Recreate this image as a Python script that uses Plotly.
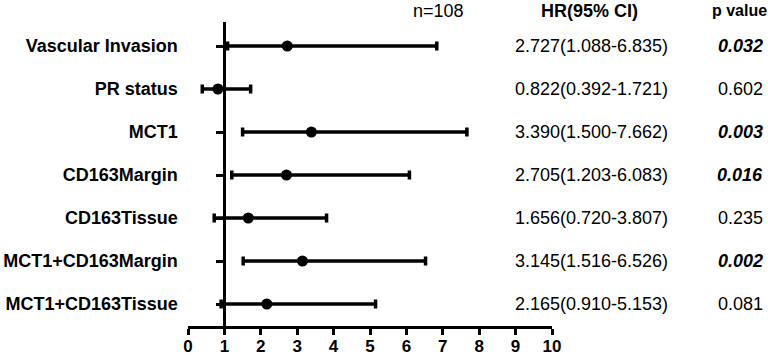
import plotly.graph_objects as go

labels = ["Vascular Invasion", "PR status", "MCT1", "CD163Margin", "CD163Tissue",
          "MCT1+CD163Margin", "MCT1+CD163Tissue"]
hr = [2.727, 0.822, 3.390, 2.705, 1.656, 3.145, 2.165]
ci_low = [1.088, 0.392, 1.500, 1.203, 0.720, 1.516, 0.910]
ci_high = [6.835, 1.721, 7.662, 6.083, 3.807, 6.526, 5.153]
p_values = [0.032, 0.602, 0.003, 0.016, 0.235, 0.002, 0.081]
x_ticks = [0, 1, 2, 3, 4, 5, 6, 7, 8, 9, 10]
n_label = "n=108"

W, H = 768, 355
FONT = "Liberation Sans, Arial, sans-serif"

err_plus = [h - v for h, v in zip(ci_high, hr)]
err_minus = [v - l for v, l in zip(hr, ci_low)]

fig = go.Figure()
fig.add_trace(go.Scatter(
    x=hr, y=labels, mode="markers",
    marker=dict(symbol="circle", size=11, color="black"),
    error_x=dict(type="data", symmetric=False, array=err_plus, arrayminus=err_minus,
                 color="black", thickness=3.5, width=4.5),
    showlegend=False, cliponaxis=False,
))

annotations = []
for lab, h, lo, hi, p in zip(labels, hr, ci_low, ci_high, p_values):
    annotations.append(dict(
        x=591 / W, xref="paper", y=lab, yref="y", xanchor="center", yanchor="middle",
        text=f"{h:.3f}({lo:.3f}-{hi:.3f})", showarrow=False,
        font=dict(family=FONT, size=18, color="black")))
    ptxt = f"{p:.3f}"
    if p < 0.05:
        ptxt = f"<b><i>{ptxt}</i></b>"
    annotations.append(dict(
        x=740 / W, xref="paper", y=lab, yref="y", xanchor="center", yanchor="middle",
        text=ptxt, showarrow=False,
        font=dict(family=FONT, size=18, color="black")))

hdr_y = 1 - 11 / H
annotations += [
    dict(x=438 / W, xref="paper", y=hdr_y, yref="paper", text=n_label, showarrow=False,
         xanchor="center", yanchor="middle", font=dict(family=FONT, size=18, color="black")),
    dict(x=589 / W, xref="paper", y=hdr_y, yref="paper", text="<b>HR(95% CI)</b>", showarrow=False,
         xanchor="center", yanchor="middle", font=dict(family=FONT, size=18, color="black")),
    dict(x=739 / W, xref="paper", y=hdr_y, yref="paper", text="<b>p value</b>", showarrow=False,
         xanchor="center", yanchor="middle", font=dict(family=FONT, size=16, color="black")),
]

x0_px, x10_px = 188, 552
axis_y_px, top_px = 327, 22
row_sp = 43.0
ylo = -(axis_y_px - 304) / row_sp
yhi = 6 + (46 - top_px) / row_sp

fig.update_layout(
    width=W, height=H,
    margin=dict(l=0, r=0, t=0, b=0, autoexpand=False),
    paper_bgcolor="white", plot_bgcolor="white",
    font=dict(family=FONT, size=18, color="black"),
    xaxis=dict(
        domain=[x0_px / W, x10_px / W], range=[0, 10],
        tickvals=x_ticks, ticktext=[f"<b>{t}</b>" for t in x_ticks],
        showgrid=False, zeroline=False, automargin=False,
        showline=True, linecolor="black", linewidth=3,
        ticks="outside", ticklen=6, tickwidth=2.5, tickcolor="black",
        anchor="free", position=(H - axis_y_px) / H,
        ticklabelstandoff=-3,
        tickfont=dict(family=FONT, size=17, color="black"),
    ),
    yaxis=dict(
        domain=[(H - axis_y_px) / H, (H - top_px) / H],
        type="category", categoryorder="array", categoryarray=labels[::-1],
        range=[ylo, yhi], automargin=False,
        ticktext=[f"<b>{l}</b>" for l in labels], tickvals=labels,
        showgrid=False, zeroline=False,
        showline=True, linecolor="black", linewidth=3,
        ticks="outside", ticklen=7, tickwidth=2.5, tickcolor="black",
        anchor="free", position=(x0_px + (x10_px - x0_px) / 10) / W,
        ticklabelstandoff=35,
        tickfont=dict(family=FONT, size=18, color="black"),
    ),
    annotations=annotations,
)

fig.write_html(
    "out.html",
    config={"displayModeBar": False},
    post_script="document.body.style.margin='0';document.body.style.overflow='hidden';",
)
